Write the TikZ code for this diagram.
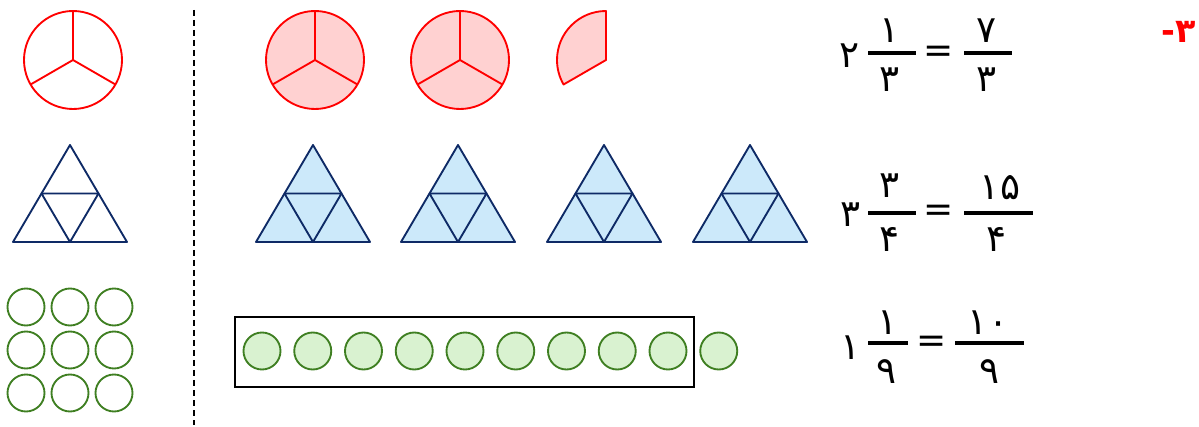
\documentclass[tikz,border=0pt]{standalone}
\usepackage{fontspec}
\newfontfamily\farsi[Script=Arabic]{DejaVu Sans}
\definecolor{partred}{HTML}{FF0000}
\definecolor{pinkfill}{HTML}{FFD1D1}
\definecolor{trinavy}{HTML}{0E2A66}
\definecolor{trifill}{HTML}{CCE9FA}
\definecolor{dotgreen}{HTML}{3F7F22}
\definecolor{dotfill}{HTML}{D9F2D0}
\begin{document}
\begin{tikzpicture}[x=0.75pt,y=-0.75pt,
    redpart/.style={draw=partred,line width=1.4pt},
    bluetri/.style={draw=trinavy,line width=1.4pt,line join=round},
    greendot/.style={draw=dotgreen,line width=1.4pt},
    digit/.style={font=\farsi\fontsize{28}{32}\selectfont,inner sep=0pt},
    eqsign/.style={font=\farsi\fontsize{27}{32}\selectfont,inner sep=0pt},
    fracbar/.style={line width=2.3pt}]
    \useasboundingbox (0,0) rectangle (1199,427);

    % dashed separator
    \draw[line width=1.2pt,dash pattern=on 4.5pt off 3pt] (194,10) -- (194,425);

    % circles (thirds)
    \draw[redpart] (73,60) circle[radius=49];
    \draw[redpart] (73,60) -- ++(-90:49) (73,60) -- ++(150:49) (73,60) -- ++(30:49);
    \foreach \x in {315,460}{
      \draw[redpart,fill=pinkfill] (\x,60) circle[radius=49];
      \draw[redpart] (\x,60) -- ++(-90:49) (\x,60) -- ++(150:49) (\x,60) -- ++(30:49);
    }
    \draw[redpart,fill=pinkfill,line join=round] (606,60) -- ++(-90:49)
      arc[start angle=-90,end angle=-210,radius=49] -- cycle;

    % triangles (quarters)
    \foreach \a\c in {70/white,313/trifill,458/trifill,604/trifill,750/trifill}{
      \draw[bluetri,fill=\c] (\a,145) -- ({\a+57},242) -- ({\a-57},242) -- cycle;
      \draw[bluetri] ({\a-28.5},193.5) -- ({\a+28.5},193.5) -- (\a,242) -- cycle;
    }

    % dots (ninths)
    \foreach \x in {26,70,114}{
      \foreach \y in {307,350,393}{
        \draw[greendot] (\x,\y) circle[radius=18.5];
      }
    }
    \draw[line width=1.5pt] (235,317) rectangle (694,387);
    \foreach \i in {0,...,9}{
      \draw[greendot,fill=dotfill] ({262+50.75*\i},351) circle[radius=18.5];
    }

    % fractions
    \node[digit] (wholeA) at (850,56) {۲};
    \node[digit] (numA) at (890,31) {۱};
    \node[digit] (denA) at (890,80) {۳};
    \draw[fracbar] (868,53) -- (916,53);
    \node[eqsign] (eqA) at (939,54) {=};
    \node[digit] (numAr) at (987,31) {۷};
    \node[digit] (denAr) at (987,80) {۳};
    \draw[fracbar] (964,53) -- (1012,53);

    \node[digit] (wholeB) at (851,215) {۳};
    \node[digit] (numB) at (890,186) {۳};
    \node[digit] (denB) at (890,239) {۴};
    \draw[fracbar] (868,213) -- (916,213);
    \node[eqsign] (eqB) at (939,213) {=};
    \node[digit] (numBr) at (1000,188) {۱۵};
    \node[digit] (denBr) at (997,239) {۴};
    \draw[fracbar] (964,213) -- (1033,213);

    \node[digit] (wholeC) at (851,348) {۱};
    \node[digit] (numC) at (888,323) {۱};
    \node[digit] (denC) at (887,372) {۹};
    \draw[fracbar] (868,343) -- (908,343);
    \node[eqsign] (eqC) at (932,344) {=};
    \node[digit] (numCr) at (988,323) {۱۰};
    \node[digit] (denCr) at (990,372) {۹};
    \draw[fracbar] (955,343) -- (1024,343);

    % exercise number
    \node[digit,font=\farsi\bfseries\fontsize{25}{30}\selectfont,text=partred] (exno) at (1179,32) {۳-};
\end{tikzpicture}
\end{document}
